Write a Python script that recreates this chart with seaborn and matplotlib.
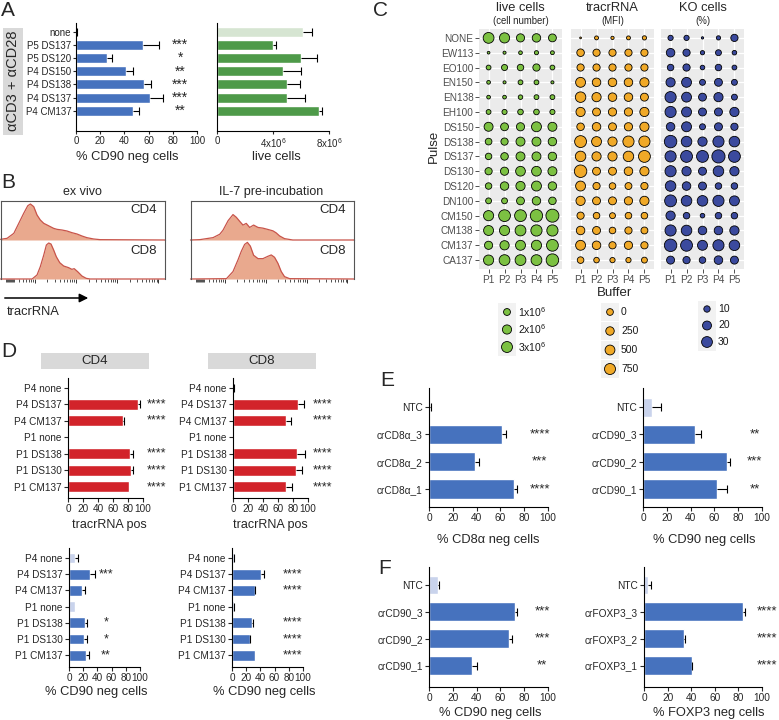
import numpy as np
import pandas as pd
import matplotlib
matplotlib.use("Agg")
import matplotlib.pyplot as plt
import seaborn as sns
from matplotlib.patches import Rectangle, FancyArrowPatch

# ------------------------------------------------------------------ data
# Panel A
a_labels = ["none", "P5 DS137", "P5 DS120", "P4 DS150", "P4 DS138", "P4 DS137", "P4 CM137"]
a_cd90_neg = [0.5, 55, 26, 41, 56, 61, 47]
a_cd90_err = [0.6, 14, 4, 6, 6, 11, 5]
a_cd90_sig = ["", "***", "*", "**", "***", "***", "**"]
a_live = [6.14e6, 4.0e6, 6.0e6, 4.7e6, 5.0e6, 5.0e6, 7.3e6]
a_live_err = [0.64e6, 0.2e6, 1.14e6, 1.3e6, 0.93e6, 1.3e6, 0.2e6]
a_live_ticks = [0, 4e6, 8e6]
a_live_ticklabels = ["0", r"4x10$^{6}$", r"8x10$^{6}$"]

# Panel B (histogram outlines: position as fraction of axis width, height as fraction of lane)
b_exvivo_cd4_x = [0, .040, .081, .111, .141, .166, .182, .202, .222, .242, .263, .283, .303, .323,
                  .343, .374, .404, .434, .465, .495, .525, .566, .606, 1.0]
b_exvivo_cd4_h = [.017, .043, .171, .427, .684, .880, .923, .855, .641, .513, .427, .385, .342, .299,
                  .274, .256, .231, .188, .154, .103, .060, .026, .009, 0]
b_exvivo_cd8_x = [0, .192, .222, .242, .263, .279, .293, .307, .323, .339, .360, .384, .414, .434,
                  .448, .469, .495, .521, .545, 1]
b_exvivo_cd8_h = [0, 0, .103, .316, .615, .872, .923, .897, .744, .573, .419, .333, .291, .248,
                  .265, .188, .077, .017, 0, 0]
b_il7_cd4_x = [0, .057, .138, .179, .199, .230, .260, .280, .301, .321, .341, .362, .386, .413,
               .443, .474, .504, .524, .545, .575, .626, 1]
b_il7_cd4_h = [0, .009, .061, .148, .252, .496, .652, .583, .478, .383, .426, .322, .383, .322,
               .304, .270, .235, .183, .104, .035, 0, 0]
b_il7_cd8_x = [0, .220, .260, .291, .311, .331, .348, .366, .386, .413, .443, .474, .494, .514,
               .535, .555, .575, .606, 1]
b_il7_cd8_h = [0, .009, .191, .496, .713, .887, .939, .843, .609, .522, .522, .583, .617, .557,
               .400, .191, .061, .009, 0]

# Panel C
c_pulses = ["NONE", "EW113", "EO100", "EN150", "EN138", "EH100", "DS150", "DS138", "DS137",
            "DS130", "DS120", "DN100", "CM150", "CM138", "CM137", "CA137"]
c_buffers = ["P1", "P2", "P3", "P4", "P5"]
c_live_cells = [  # x 10^6
    [2.93, 2.54, 1.51, 1.64, 1.39],
    [0.13, 0.16, 0.23, 0.29, 0.25],
    [0.42, 0.74, 0.87, 1.13, 0.42],
    [0.23, 0.16, 0.42, 0.42, 0.16],
    [0.23, 0.23, 0.36, 0.42, 0.42],
    [0.42, 0.49, 0.61, 0.61, 0.49],
    [1.90, 1.39, 1.51, 2.41, 1.90],
    [0.94, 1.13, 1.90, 1.90, 1.64],
    [0.87, 1.26, 1.90, 1.90, 1.64],
    [1.13, 1.51, 2.29, 2.29, 1.90],
    [0.87, 1.64, 2.03, 2.41, 1.64],
    [0.68, 0.68, 1.39, 1.64, 1.26],
    [2.54, 3.57, 3.57, 3.96, 4.47],
    [2.41, 2.54, 2.93, 3.19, 3.19],
    [1.51, 2.03, 2.41, 2.54, 3.57],
    [2.54, 2.93, 2.93, 2.93, 4.09],
]
c_tracr_mfi = [
    [-300, -243, -273, -243, -225],
    [111, 66, 66, 66, 66],
    [66, 66, 66, 66, 66],
    [514, 260, 260, 260, 380],
    [637, 380, 260, 260, 169],
    [380, 169, 214, 214, 380],
    [111, 260, 169, 214, 380],
    [957, 514, 380, 790, 790],
    [637, 380, 380, 637, 957],
    [1114, 169, 169, 260, 380],
    [514, 66, -14, 26, 66],
    [380, 169, 169, 214, 380],
    [66, -14, -89, -14, -14],
    [260, 169, -14, 66, 26],
    [514, 260, 66, 214, 66],
    [-14, -123, -151, -151, -89],
]
c_ko_pct = [
    [7.0, 7.0, 3.1, 5.0, 12.9],
    [18.1, 12.9, 5.0, 8.7, 5.6],
    [10.4, 12.9, 5.6, 10.4, 6.1],
    [21.2, 24.8, 8.7, 15.4, 8.7],
    [32.3, 24.8, 15.4, 21.2, 8.7],
    [32.1, 25.1, 15.8, 15.8, 21.6],
    [18.1, 25.1, 8.8, 15.8, 12.9],
    [40.9, 28.6, 21.6, 32.1, 28.6],
    [32.1, 36.7, 36.7, 46.0, 36.7],
    [32.1, 21.6, 15.8, 28.6, 21.6],
    [28.6, 18.1, 15.8, 10.4, 10.4],
    [36.7, 28.6, 28.6, 32.1, 25.1],
    [21.6, 10.4, 5.6, 10.4, 10.4],
    [32.1, 28.6, 18.1, 18.1, 21.6],
    [40.9, 36.7, 25.1, 32.1, 28.6],
    [15.8, 12.9, 10.4, 18.1, 15.8],
]
c_live_legend = [1, 2, 3]
c_live_legend_labels = [r"1x10$^{6}$", r"2x10$^{6}$", r"3x10$^{6}$"]
c_tracr_legend = [0, 250, 500, 750]
c_ko_legend = [10, 20, 30]

# Panel D
d_labels = ["P4 none", "P4 DS137", "P4 CM137", "P1 none", "P1 DS138", "P1 DS130", "P1 CM137"]
d_cd4_tracr = [0, 93, 73, 0, 83, 84, 81.5]
d_cd4_tracr_err = [0, 3.5, 1.5, 0, 4, 2, 0]
d_cd8_tracr = [1, 86, 70, 0.5, 85, 84, 70]
d_cd8_tracr_err = [0.5, 9, 7, 0, 11, 8, 8]
d_tracr_sig = ["", "****", "****", "", "****", "****", "****"]
d_cd4_cd90 = [8.5, 30, 19, 8.5, 22, 21, 24]
d_cd4_cd90_err = [4.5, 6, 3, 0, 4, 5, 4]
d_cd4_cd90_sig = ["", "***", "", "", "*", "*", "**"]
d_cd8_cd90 = [3, 41, 32, 3, 28, 25, 32]
d_cd8_cd90_err = [0.5, 4, 1, 0.5, 2, 1, 0]
d_cd8_cd90_sig = ["", "****", "****", "", "****", "****", "****"]

# Panel E
e_cd8_labels = ["NTC", "crCD8\u03b1_3", "crCD8\u03b1_2", "crCD8\u03b1_1"]
e_cd8_neg = [0.8, 61, 39, 71.5]
e_cd8_err = [0.5, 4, 3, 2.8]
e_cd8_sig = ["", "****", "***", "****"]
e_cd90_labels = ["NTC", "crCD90_3", "crCD90_2", "crCD90_1"]
e_cd90_neg = [7.8, 44, 70.6, 62]
e_cd90_err = [7, 5, 2.2, 9]
e_cd90_sig = ["", "**", "***", "**"]

# Panel F
f_cd90_labels = ["NTC", "crCD90_3", "crCD90_2", "crCD90_1"]
f_cd90_neg = [7.8, 72, 67, 36]
f_cd90_err = [0.6, 2, 3, 4]
f_cd90_sig = ["", "***", "***", "**"]
f_foxp3_labels = ["NTC", "crFOXP3_3", "crFOXP3_2", "crFOXP3_1"]
f_foxp3_neg = [3.7, 84, 34, 40.5]
f_foxp3_err = [2, 1.5, 1, 0.6]
f_foxp3_sig = ["", "****", "****", "****"]

# ------------------------------------------------------------------ style
sns.set_style("ticks")
plt.rcParams["font.family"] = ["Liberation Sans", "DejaVu Sans"]
plt.rcParams["mathtext.default"] = "regular"
plt.rcParams["axes.linewidth"] = 0.8
plt.rcParams["axes.edgecolor"] = "black"

BLUE, LBLUE = "#4672BE", "#C9D3EC"
GREEN, LGREEN = "#4E9A49", "#D6E5D2"
RED = "#D2232A"
C_GREEN, C_ORANGE, C_NAVY = "#7CC142", "#F0A928", "#3B4A9E"
HFILL, HEDGE = "#E9A98E", "#C8544A"

W, H = 779, 720
fig = plt.figure(figsize=(W / 100, H / 100), dpi=100)
fig.patch.set_facecolor("white")


def pax(x0, y0, x1, y1):
    return fig.add_axes([x0 / W, 1 - y1 / H, (x1 - x0) / W, (y1 - y0) / H])


def ftext(x, y, s, **kw):
    kw.setdefault("ha", "center")
    kw.setdefault("va", "center")
    fig.text(x / W, 1 - y / H, s, **kw)


def frect(x0, y0, x1, y1, color):
    fig.add_artist(Rectangle((x0 / W, 1 - y1 / H), (x1 - x0) / W, (y1 - y0) / H,
                             transform=fig.transFigure, facecolor=color, edgecolor="none"))


def bar_panel(box, labels, vals, errs, colors, sig, sig_x, ylim, xlim, xticks,
              xticklabels=None, fs=7.3, width=0.72, show_y=True, sig_fs=9, tlen=3, tpad=1.5):
    ax = pax(*box)
    df = pd.DataFrame({"label": labels, "value": vals})
    sns.barplot(data=df, x="value", y="label", hue="label",
                palette=dict(zip(labels, colors)), orient="h", width=width,
                saturation=1, legend=False, errorbar=None, ax=ax)
    pos = np.arange(len(labels))
    v = np.asarray(vals, float)
    e = np.asarray(errs, float)
    m = e > 0
    ax.hlines(pos[m], v[m], v[m] + e[m], color="black", lw=0.8, zorder=4)
    ax.plot(v[m] + e[m], pos[m], ls="none", marker="|", ms=5.5, mew=0.8,
            color="black", zorder=4)
    for p, s in zip(pos, sig):
        if s:
            ax.text(sig_x, p, s, ha="center", va="center", fontsize=sig_fs, clip_on=False)
    ax.set_xlim(*xlim)
    ax.set_ylim(*ylim)
    ax.set_xticks(xticks)
    if xticklabels is not None:
        ax.set_xticklabels(xticklabels)
    ax.set_xlabel("")
    ax.set_ylabel("")
    sns.despine(ax=ax)
    ax.tick_params(axis="both", labelsize=fs, length=tlen, width=0.8, pad=tpad)
    if not show_y:
        ax.tick_params(axis="y", left=False, labelleft=False)
    return ax


# ------------------------------------------------------------------ Panel A
ftext(1, 11, "A", fontsize=15, ha="left")
frect(3, 28, 23, 135, "#D9D9D9")
ftext(13, 81, "\u03b1CD3 + \u03b1CD28", rotation=90, fontsize=10.5)
a_cols = [LBLUE] + [BLUE] * 6
bar_panel((76, 23, 197, 131), a_labels, a_cd90_neg, a_cd90_err, a_cols, a_cd90_sig, 86,
          (7.55, -0.68), (0, 100), [0, 20, 40, 60, 80, 100], width=0.76, fs=7.0, sig_fs=10,
          tlen=2.5, tpad=1)
ftext(127, 157, "% CD90 neg cells", fontsize=9.3)
g_cols = [LGREEN] + [GREEN] * 6
bar_panel((217, 23, 329, 131), a_labels, a_live, a_live_err, g_cols, [""] * 7, 0,
          (7.55, -0.68), (0, 8e6), a_live_ticks, a_live_ticklabels, width=0.76, fs=7.0,
          show_y=False, tlen=2.5, tpad=1)
ftext(276, 157, "live cells", fontsize=9.3)

# ------------------------------------------------------------------ Panel B
ftext(1, 182, "B", fontsize=15, ha="left")


def hist_box(x0, x1, top, mid, bot, c4x, c4h, c8x, c8h, title, title_x):
    ftext(title_x, 192, title, fontsize=9)
    for (yy0, yy1, xs, hs, lab, lane) in [(top, mid, c4x, c4h, "CD4", 0), (mid, bot, c8x, c8h, "CD8", 1)]:
        ax = pax(x0, yy0, x1, yy1)
        ax.fill_between(xs, hs, 0, color=HFILL, lw=0, clip_on=False)
        sns.lineplot(x=xs, y=hs, color=HEDGE, lw=0.9, ax=ax, clip_on=False)
        ax.set_xlim(0, 1)
        ax.set_ylim(0, 1.0)
        ax.set_facecolor("none")
        for s in ["left", "right"]:
            ax.spines[s].set_color("#555555")
        ax.spines["bottom"].set_visible(False)
        if lane == 0:
            ax.spines["top"].set_color("#555555")
            ax.set_xticks([])
        else:
            ax.spines["top"].set_visible(False)
            major = [0.21, 0.46, 0.71, 0.96]
            minor = list(np.arange(0.035, 0.085, 0.006))
            for mj in major:
                minor += [mj - 0.25 + 0.25 * np.log10(k) for k in range(2, 10)
                          if mj - 0.25 + 0.25 * np.log10(k) > 0.09]
            ax.set_xticks(major)
            ax.set_xticks(minor, minor=True)
            ax.tick_params(axis="x", which="major", length=3.2, width=0.7, labelbottom=False,
                           color="#333333")
            ax.tick_params(axis="x", which="minor", length=2, width=0.6, color="#333333")
        ax.set_yticks([])
        ax.set_xlabel("")
        ax.set_ylabel("")
        ax.text(0.95, 0.78 if lane == 0 else 0.72, lab, transform=ax.transAxes,
                ha="right", va="center", fontsize=9.5)


hist_box(0.5, 165, 201, 240, 279, b_exvivo_cd4_x, b_exvivo_cd4_h, b_exvivo_cd8_x,
         b_exvivo_cd8_h, "ex vivo", 82)
hist_box(190.5, 354, 201, 240, 279, b_il7_cd4_x, b_il7_cd4_h, b_il7_cd8_x,
         b_il7_cd8_h, "IL-7 pre-incubation", 271)
fig.add_artist(FancyArrowPatch((2 / W, 1 - 298 / H), (91 / W, 1 - 298 / H),
                               transform=fig.transFigure, arrowstyle="-|>",
                               mutation_scale=13, lw=1.1, color="black"))
ftext(7, 312, "tracrRNA", fontsize=9.3, ha="left")

# ------------------------------------------------------------------ Panel C
ftext(373, 10, "C", fontsize=15, ha="left")


def bubble_area(v, vmin, vmax):
    frac = np.clip((np.asarray(v, float) - vmin) / (vmax - vmin), 0, 1)
    d_px = 2.4 + 11.4 * np.sqrt(frac)
    return (d_px * 0.72 - 0.45) ** 2


AMAX = 120.0
c_scales = [(0.1, 4.6, C_GREEN), (-300, 1300, C_ORANGE), (3, 46, C_NAVY)]
facets = [(479, 562, c_live_cells, "live cells", "(cell number)"),
          (571, 654, c_tracr_mfi, "tracrRNA", "(MFI)"),
          (661, 744, c_ko_pct, "KO cells", "(%)")]
for k, (fx0, fx1, vals, t1, t2) in enumerate(facets):
    vmin, vmax, col = c_scales[k]
    ax = pax(fx0, 29, fx1, 269)
    rows = [(j, i, vals[i][j]) for i in range(len(c_pulses)) for j in range(len(c_buffers))]
    df = pd.DataFrame(rows, columns=["bx", "py", "v"])
    df["area"] = bubble_area(df["v"], vmin, vmax)
    sns.scatterplot(data=df, x="bx", y="py", size="area", sizes=(0, AMAX),
                    size_norm=(0, AMAX), color=col, edgecolor="black", linewidth=0.6,
                    legend=False, ax=ax, zorder=3)
    ax.set_facecolor("#EBEBEB")
    ax.set_xlim(-0.6, 4.6)
    ax.set_ylim(15.6, -0.6)
    ax.set_xticks(range(5))
    ax.set_xticklabels(c_buffers)
    ax.set_yticks(range(len(c_pulses)))
    ax.set_yticklabels(c_pulses if k == 0 else [])
    ax.grid(True, color="white", lw=0.9)
    ax.set_axisbelow(True)
    for s in ax.spines.values():
        s.set_visible(False)
    ax.tick_params(colors="#333333", labelcolor="#4D4D4D", labelsize=7.2, length=3,
                   width=0.6, pad=1)
    if k > 0:
        ax.tick_params(axis="y", left=False)
    ax.set_xlabel("")
    ax.set_ylabel("")
    cx = (fx0 + fx1) / 2
    ftext(cx, 8, t1, fontsize=9.3)
    ftext(cx, 21.5, t2, fontsize=6.9)
ftext(434, 146, "Pulse", fontsize=9.5, rotation=90)
ftext(615, 293, "Buffer", fontsize=9.5)

legends = [((498, 303.25, 560, 355.75), c_live_legend, c_live_legend_labels, 0),
           ((601, 302.5, 660, 378.5), c_tracr_legend, [str(v) for v in c_tracr_legend], 1),
           ((698, 300.75, 760, 350.25), c_ko_legend, [str(v) for v in c_ko_legend], 2)]
for box, lv, ll, k in legends:
    vmin, vmax, col = c_scales[k]
    ax = pax(*box)
    n = len(lv)
    kx = 9 / (box[2] - box[0])
    tx = 20 / (box[2] - box[0])
    ax.scatter([kx] * n, range(n), marker="s", s=150, color="#F2F2F2", zorder=1, lw=0)
    dfl = pd.DataFrame({"x": [kx] * n, "y": list(range(n)),
                        "area": bubble_area(lv, vmin, vmax)})
    sns.scatterplot(data=dfl, x="x", y="y", size="area", sizes=(0, AMAX),
                    size_norm=(0, AMAX), color=col, edgecolor="black", linewidth=0.6,
                    legend=False, ax=ax, zorder=3)
    for i, lab in enumerate(ll):
        ax.text(tx, i, lab, va="center", ha="left", fontsize=7.5, color="#1A1A1A")
    ax.set_xlim(0, 1)
    ax.set_ylim(n - 0.5, -0.5)
    ax.axis("off")

# ------------------------------------------------------------------ Panel D
ftext(1, 351, "D", fontsize=15, ha="left")
for (sx0, sx1, lab) in [(41, 149, "CD4"), (208, 316, "CD8")]:
    frect(sx0, 353, sx1, 369, "#D9D9D9")
    ftext((sx0 + sx1) / 2, 361, lab, fontsize=9.5)

d_ticks = [0, 20, 40, 60, 80, 100]
red_cols = [RED] * 7
bar_panel((68, 378, 143, 498), d_labels, d_cd4_tracr, d_cd4_tracr_err, red_cols,
          d_tracr_sig, 118, (6.67, -0.6), (0, 100), d_ticks, width=0.66, fs=7.2, sig_fs=9)
bar_panel((233, 378, 308, 498), d_labels, d_cd8_tracr, d_cd8_tracr_err, red_cols,
          d_tracr_sig, 119, (6.67, -0.6), (0, 100), d_ticks, width=0.66, fs=7.2, sig_fs=9)
ftext(109, 525, "tracrRNA pos", fontsize=9)
ftext(270, 525, "tracrRNA pos", fontsize=9)

d_cols = [LBLUE, BLUE, BLUE, LBLUE, BLUE, BLUE, BLUE]
bar_panel((69, 548, 140, 667), d_labels, d_cd4_cd90, d_cd4_cd90_err, d_cols,
          d_cd4_cd90_sig, 52, (6.73, -0.62), (0, 100), d_ticks, width=0.66, fs=7.2, sig_fs=9)
bar_panel((232, 548, 303, 667), d_labels, d_cd8_cd90, d_cd8_cd90_err, d_cols,
          d_cd8_cd90_sig, 85, (6.73, -0.62), (0, 100), d_ticks, width=0.66, fs=7.2, sig_fs=9)
ftext(96, 692, "% CD90 neg cells", fontsize=9.3)
ftext(264, 692, "% CD90 neg cells", fontsize=9.3)

# ------------------------------------------------------------------ Panel E
ftext(380, 380, "E", fontsize=15, ha="left")
ef_cols = [LBLUE, BLUE, BLUE, BLUE]
bar_panel((429, 388, 548, 507), e_cd8_labels, e_cd8_neg, e_cd8_err, ef_cols, e_cd8_sig,
          93, (3.66, -0.7), (0, 100), d_ticks, width=0.7, fs=7.3, sig_fs=9.5)
bar_panel((643, 388, 762, 507), e_cd90_labels, e_cd90_neg, e_cd90_err, ef_cols, e_cd90_sig,
          94, (3.66, -0.7), (0, 100), d_ticks, width=0.7, fs=7.3, sig_fs=9.5)
ftext(488, 540, "% CD8\u03b1 neg cells", fontsize=9.3)
ftext(704, 540, "% CD90 neg cells", fontsize=9.3)

# ------------------------------------------------------------------ Panel F
ftext(378, 568, "F", fontsize=15, ha="left")
bar_panel((429, 567, 548, 687), f_cd90_labels, f_cd90_neg, f_cd90_err, ef_cols, f_cd90_sig,
          95, (3.8, -0.67), (0, 100), d_ticks, width=0.7, fs=7.3, sig_fs=9.5)
bar_panel((644, 567, 762, 687), f_foxp3_labels, f_foxp3_neg, f_foxp3_err, ef_cols, f_foxp3_sig,
          104, (3.8, -0.67), (0, 100), d_ticks, width=0.7, fs=7.3, sig_fs=9.5)
ftext(490, 713, "% CD90 neg cells", fontsize=9.3)
ftext(709, 713, "% FOXP3 neg cells", fontsize=9.3)

fig.savefig("out.png", dpi=100, facecolor="white")
